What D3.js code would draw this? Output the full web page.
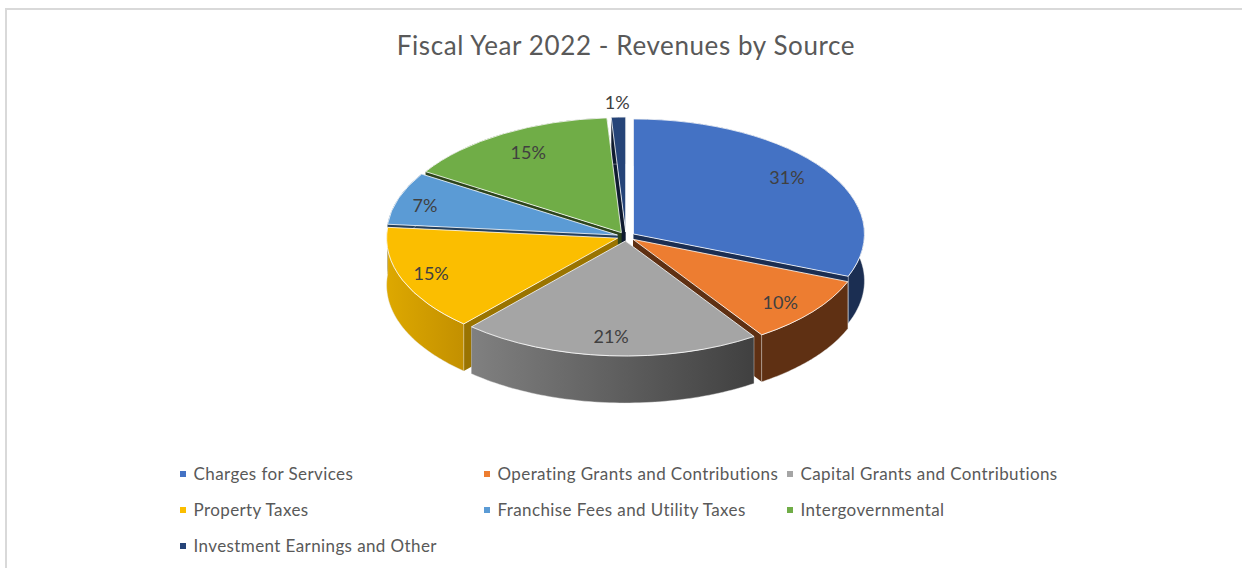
<!DOCTYPE html>
<html>
<head>
<meta charset="utf-8">
<style>
  html, body { margin: 0; padding: 0; background: #fff; overflow: hidden; }
  text { font-family: Lato, "Open Sans", sans-serif; }
</style>
<script src="https://cdn.jsdelivr.net/npm/d3@7"></script>
</head>
<body>
<div id="chart"></div>
<script>
// chart values
const categories = ["Charges for Services", "Operating Grants and Contributions", "Capital Grants and Contributions",
  "Property Taxes", "Franchise Fees and Utility Taxes", "Intergovernmental", "Investment Earnings and Other"];
const shares = [31.0, 9.6, 21.0, 14.9, 7.4, 15.1, 1.0];
const titleText = "Fiscal Year 2022 - Revenues by Source";

// office theme colours
const topColors = ["#4472C4", "#ED7D31", "#A5A5A5", "#FBBE00", "#5B9BD5", "#70AD47", "#264478"];
const rimLeft = ["#1B2E52", "#5F3013", "#808080", "#DDA800", "#24405E", "#2D451C", "#0F1B30"];
const rimRight = ["#1B2E52", "#5F3013", "#404040", "#C39000", "#24405E", "#2D451C", "#0F1B30"];
const cutColors = ["#1B2E52", "#5F3013", "#424242", "#9A7400", "#24405E", "#2D451C", "#0F1B30"];

// excel places its labels by hand-ish rules, so small nudges per label
const labelNudgeX = [-5, -2, -1, -8, -11, 5, 0];
const labelNudgeY = [-3, 3, 1, 1, 1, 2, 5];

const width = 1242, height = 568;
const cx = 626, cy = 236.5, rx = 231, ry = 115, depth = 47, explode = 9;

const svg = d3.select("#chart").append("svg")
  .attr("width", width)
  .attr("height", height);

// frame of the chart area, only top and left are in the crop
svg.append("path")
  .attr("d", `M6,${height}V9H${width}`)
  .attr("fill", "none")
  .attr("stroke", "#D9D9D9")
  .attr("stroke-width", 2);

svg.append("text")
  .attr("x", cx)
  .attr("y", 55)
  .attr("text-anchor", "middle")
  .attr("font-size", 26)
  .attr("letter-spacing", 0.6)
  .attr("fill", "#595959")
  .text(titleText);

const topScale = d3.scaleOrdinal().domain(categories).range(topColors);

const pie = d3.pie().sort(null).value(d => d.share);
const slices = pie(categories.map((name, i) => ({ name, share: shares[i], i })));

// circle space -> tilted ellipse, angles are clockwise from 12 o'clock
const project = (a, r, dz = 0) => [r * Math.sin(a), -r * Math.cos(a) * ry / rx + dz];
const line = d3.line();
const defs = svg.append("defs");

const mid = d => (d.startAngle + d.endAngle) / 2;
const ordered = slices.slice().sort((a, b) => -Math.cos(mid(a)) + Math.cos(mid(b)));

const arcTop = d3.arc().innerRadius(0).outerRadius(rx);

ordered.forEach(d => {
  const i = d.data.i;
  const [ox, oy] = project(mid(d), explode);
  const g = svg.append("g")
    .attr("class", "slice")
    .attr("transform", `translate(${cx + ox},${cy + oy})`);

  // two cut faces
  [d.startAngle, d.endAngle].forEach(a => {
    const e = project(a, rx);
    g.append("path")
      .attr("d", line([[0, 0], e, [e[0], e[1] + depth], [0, depth]]) + "Z")
      .attr("fill", cutColors[i]);
  });

  // outer wall with a left to right gradient
  const grad = defs.append("linearGradient")
    .attr("id", "wall" + i)
    .attr("gradientUnits", "userSpaceOnUse")
    .attr("x1", d3.min([d.startAngle, d.endAngle], a => project(a, rx)[0]))
    .attr("x2", d3.max([d.startAngle, d.endAngle], a => project(a, rx)[0]))
    .attr("y1", 0).attr("y2", 0);
  grad.append("stop").attr("offset", 0).attr("stop-color", rimLeft[i]);
  grad.append("stop").attr("offset", 1).attr("stop-color", rimRight[i]);

  const steps = d3.range(0, 61).map(k => d.startAngle + (d.endAngle - d.startAngle) * k / 60);
  const upper = steps.map(a => project(a, rx));
  const lower = steps.slice().reverse().map(a => project(a, rx, depth));
  g.append("path")
    .attr("d", line(upper.concat(lower)) + "Z")
    .attr("fill", `url(#wall${i})`)
    .attr("stroke", "#E8E8E8")
    .attr("stroke-width", 0.6)
    .attr("stroke-opacity", 0.7);

  // top face
  g.append("path")
    .attr("transform", `scale(1,${ry / rx})`)
    .attr("d", arcTop(d))
    .attr("fill", topScale(d.data.name))
    .attr("stroke", "#fff")
    .attr("stroke-width", 0.8)
    .attr("vector-effect", "non-scaling-stroke");
});

// percent labels on top of everything
slices.forEach((d, i) => {
  const [ox, oy] = project(mid(d), explode);
  const small = d.data.share < 2;
  const [lx, ly] = project(mid(d), rx * (small ? 1.17 : 0.83));
  svg.append("text")
    .attr("x", cx + ox + lx + labelNudgeX[i])
    .attr("y", cy + oy + ly + labelNudgeY[i])
    .attr("dy", "0.35em")
    .attr("text-anchor", "middle")
    .attr("font-size", 18)
    .attr("fill", "#404040")
    .text(d3.format(".0f")(d.data.share) + "%");
});

// legend, three columns
const colX = d3.scaleOrdinal().domain([0, 1, 2]).range([180, 484, 787]);
const rowY = d3.scaleOrdinal().domain([0, 1, 2]).range([474, 510, 546]);

const legend = svg.selectAll("g.legend")
  .data(categories)
  .join("g")
  .attr("class", "legend")
  .attr("transform", (d, i) => `translate(${colX(i % 3)},${rowY(Math.floor(i / 3))})`);

legend.append("rect")
  .attr("x", 0).attr("y", -3)
  .attr("width", 6).attr("height", 6)
  .attr("fill", d => topScale(d));

legend.append("text")
  .attr("x", 13.5)
  .attr("dy", "0.35em")
  .attr("font-size", 17)
  .attr("letter-spacing", 0.4)
  .attr("fill", "#595959")
  .text(d => d);
</script>
</body>
</html>
